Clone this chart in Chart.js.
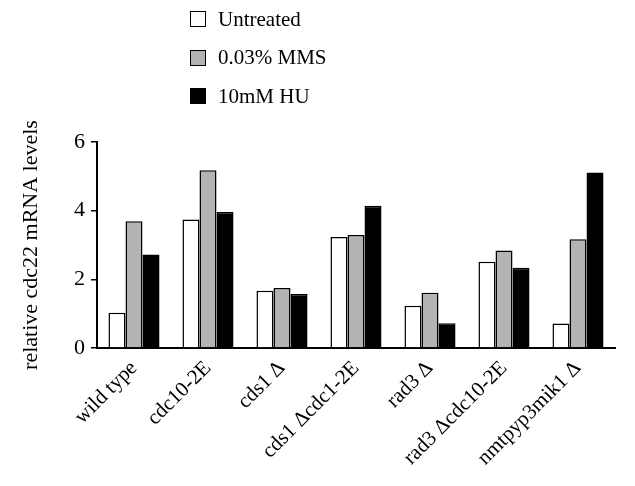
<!DOCTYPE html>
<html>
<head>
<meta charset="utf-8">
<script src="https://cdn.jsdelivr.net/npm/chart.js@4.4.1/dist/chart.umd.min.js"></script>
<style>
  html, body { margin: 0; padding: 0; background: #fff; }
  #wrap { position: relative; width: 635px; height: 486px; }
  #legend { position: absolute; left: 190px; top: 0px; font-family: 'Liberation Serif', serif; font-size: 21px; color: #000; }
  .row { display: flex; align-items: center; height: 38.5px; }
  .sw { width: 16px; height: 16px; border: 1.5px solid #000; margin-right: 12px; box-sizing: border-box; }
</style>
</head>
<body>
<div id="wrap">
  <canvas id="chart" width="635" height="486"></canvas>
  <div id="legend"></div>
</div>
<script>
// Values
const strains = ['wild type', 'cdc10-2E', 'cds1 Δ', 'cds1 Δcdc1-2E', 'rad3 Δ', 'rad3 Δcdc10-2E', 'nmtpyp3mik1 Δ'];
const untreated = [1.03, 3.74, 1.67, 3.23, 1.23, 2.51, 0.71];
const mms = [3.69, 5.18, 1.75, 3.29, 1.61, 2.84, 3.17];
const hu = [2.72, 3.96, 1.57, 4.14, 0.72, 2.34, 5.11];
const yTicks = [0, 2, 4, 6];

const series = [
    { label: 'Untreated', data: untreated, color: '#ffffff' },
    { label: '0.03% MMS', data: mms, color: '#b3b3b3' },
    { label: '10mM HU', data: hu, color: '#000000' }
];

// HTML legend, stacked vertically like the figure
const legend = document.getElementById('legend');
series.forEach(s => {
    const row = document.createElement('div');
    row.className = 'row';
    row.innerHTML = '<span class="sw" style="background:' + s.color + '"></span>' + s.label;
    legend.appendChild(row);
});

const font = { family: "'Liberation Serif', serif", size: 22 };

new Chart(document.getElementById('chart'), {
    type: 'bar',
    data: {
        labels: strains,
        datasets: series.map(s => ({
            label: s.label,
            data: s.data,
            backgroundColor: s.color,
            borderColor: '#000',
            borderWidth: 1.5,
            borderSkipped: 'bottom',
            barPercentage: 1.0,
            categoryPercentage: 0.69
        }))
    },
    options: {
        responsive: false,
        animation: false,
        layout: { padding: { top: 142, right: 20, left: 14, bottom: 0 } },
        plugins: { legend: { display: false }, tooltip: { enabled: false } },
        scales: {
            x: {
                grid: { display: false },
                border: { color: '#000', width: 2 },
                ticks: { color: '#000', font: { family: font.family, size: 21 }, minRotation: 45, maxRotation: 45, padding: 0 },
                afterFit: scale => { scale.height = 138; }
            },
            y: {
                min: 0,
                max: 6,
                afterBuildTicks: scale => { scale.ticks = yTicks.map(v => ({ value: v })); },
                grid: { drawOnChartArea: false, color: '#000', tickLength: 6, lineWidth: 1.5 },
                border: { color: '#000', width: 2 },
                ticks: { color: '#000', font: font, padding: 6 },
                title: { display: true, text: 'relative cdc22 mRNA levels', color: '#000', font: font, padding: { bottom: 6 } },
                afterFit: scale => { scale.width = 83; }
            }
        }
    }
});
</script>
</body>
</html>
